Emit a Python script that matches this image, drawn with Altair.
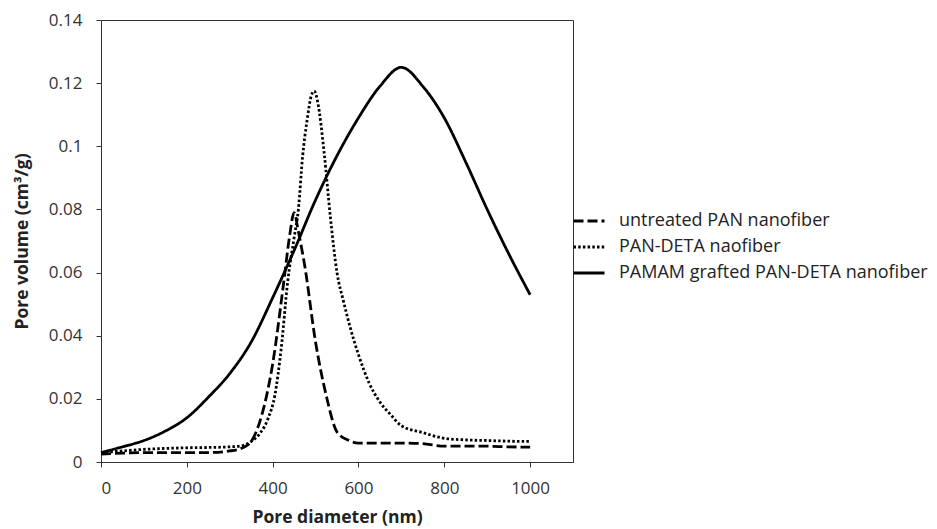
import altair as alt
import pandas as pd

series_names = ["untreated PAN nanofiber", "PAN-DETA naofiber", "PAMAM grafted PAN-DETA nanofiber"]

untreated_x = [0, 50, 100, 150, 200, 250, 300, 330, 350, 375, 400, 425, 440, 450, 460, 475, 500, 525, 550, 575, 600, 650, 700, 750, 800, 850, 900, 950, 1000]
untreated_y = [0.0025, 0.0028, 0.003, 0.003, 0.003, 0.003, 0.0035, 0.0045, 0.0065, 0.015, 0.031, 0.056, 0.072, 0.079, 0.073, 0.062, 0.038, 0.021, 0.0095, 0.007, 0.006, 0.006, 0.006, 0.0058, 0.005, 0.005, 0.005, 0.0048, 0.0047]

detax = [0, 50, 100, 150, 200, 250, 300, 330, 350, 370, 390, 405, 420, 435, 450, 460, 470, 480, 490, 497, 505, 520, 535, 550, 565, 580, 600, 625, 650, 675, 700, 750, 800, 850, 900, 950, 1000]
detay = [0.003, 0.0035, 0.004, 0.0043, 0.0045, 0.0046, 0.0048, 0.0052, 0.0065, 0.009, 0.014, 0.021, 0.036, 0.057, 0.071, 0.08, 0.097, 0.108, 0.116, 0.1175, 0.114, 0.098, 0.077, 0.06, 0.051, 0.043, 0.034, 0.025, 0.019, 0.015, 0.0115, 0.0093, 0.0075, 0.007, 0.0068, 0.0066, 0.0065]

pamam_x = [0, 50, 100, 150, 200, 250, 300, 350, 400, 450, 500, 550, 600, 650, 700, 750, 800, 850, 900, 950, 1000]
pamam_y = [0.003, 0.0048, 0.0068, 0.0098, 0.014, 0.0205, 0.028, 0.038, 0.052, 0.067, 0.083, 0.097, 0.109, 0.119, 0.125, 0.119, 0.109, 0.095, 0.080, 0.066, 0.053]

rows = []
for name, xs, ys in zip(series_names, [untreated_x, detax, pamam_x], [untreated_y, detay, pamam_y]):
    for xv, yv in zip(xs, ys):
        rows.append({"d": xv, "v": yv, "series": name})
df = pd.DataFrame(rows)

FONT = "Open Sans"
AX = "#333333"

chart = alt.Chart(df).mark_line(interpolate="monotone", color="black", strokeWidth=2.8).encode(
    x=alt.X("d:Q", scale=alt.Scale(domain=[0, 1100], nice=False),
            axis=alt.Axis(title="Pore diameter (nm)", values=[0, 200, 400, 600, 800, 1000],
                          format="d", grid=False, tickSize=5, labelPadding=13, titleBaseline="alphabetic",
                          titleY=60, titleFontWeight="bold", titleFontSize=17.5)),
    y=alt.Y("v:Q", scale=alt.Scale(domain=[0, 0.14], nice=False),
            axis=alt.Axis(title="Pore volume (cm³/g)", values=[0, 0.02, 0.04, 0.06, 0.08, 0.1, 0.12, 0.14],
                          format=".2~f", grid=False, tickSize=5, labelPadding=14,
                          titleBaseline="alphabetic", titleX=-74, titleY=221, titleAngle=-90,
                          titleFontWeight="bold", titleFontSize=17.5)),
    strokeDash=alt.StrokeDash("series:N", sort=series_names,
                              scale=alt.Scale(domain=series_names, range=[[10, 4], [2.5, 2.2], [1, 0]]),
                              legend=alt.Legend(title=None, orient="none", legendX=471, legendY=184,
                                                symbolType="stroke", symbolSize=961, symbolStrokeWidth=3,
                                                symbolStrokeColor="black", labelFontSize=18, labelFont=FONT,
                                                labelColor="#222222", labelOffset=13, rowPadding=-4, padding=0,
                                                labelLimit=500)),
    order=alt.Order("d:Q"),
).properties(
    width=472, height=442,
    autosize=alt.AutoSizeParams(type="none"),
    padding={"left": 101, "top": 20, "right": 364, "bottom": 67},
).configure_view(
    stroke=AX, strokeWidth=1
).configure_axis(
    domainColor=AX, tickColor=AX, labelFont=FONT, titleFont=FONT, labelFontSize=17,
    labelColor="#333333", titleColor="#222222", domainWidth=1
)

chart.save("out.html", embed_options={"renderer": "svg", "actions": False})
